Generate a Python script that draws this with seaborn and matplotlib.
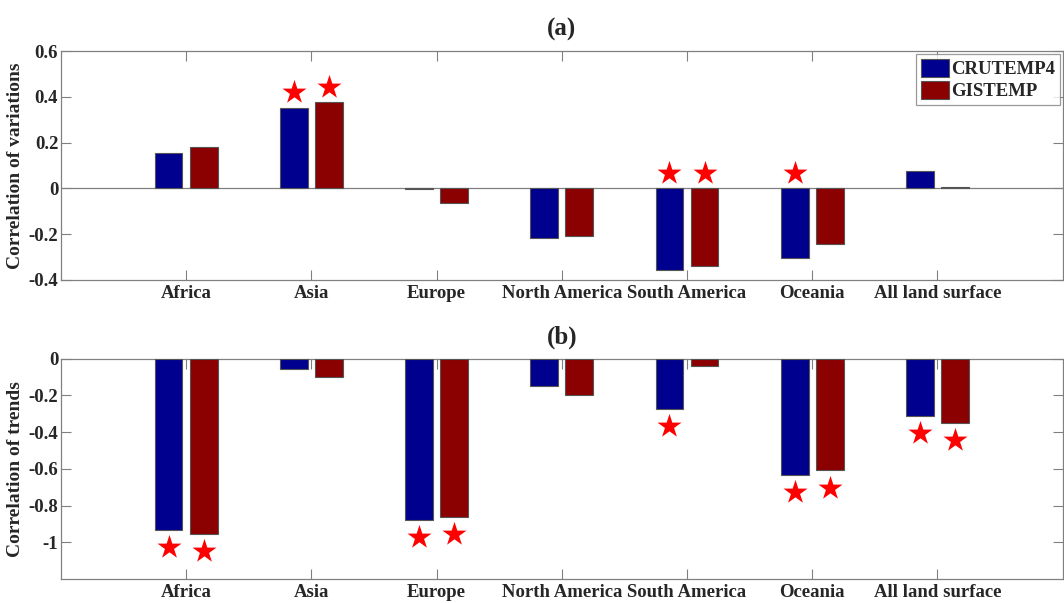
import numpy as np
import pandas as pd
import matplotlib
matplotlib.use("Agg")
import matplotlib.pyplot as plt
import seaborn as sns

regions = ["Africa", "Asia", "Europe", "North America", "South America",
           "Oceania", "All land surface"]
datasets = ["CRUTEMP4", "GISTEMP"]

# (a) correlation of variations
var_cru = [0.155, 0.353, -0.004, -0.215, -0.355, -0.305, 0.074]
var_gis = [0.183, 0.377, -0.062, -0.209, -0.340, -0.245, 0.008]
var_sig_cru = [0, 1, 0, 0, 1, 1, 0]
var_sig_gis = [0, 1, 0, 0, 1, 0, 0]

# (b) correlation of trends
trd_cru = [-0.931, -0.053, -0.877, -0.147, -0.274, -0.631, -0.312]
trd_gis = [-0.953, -0.101, -0.862, -0.196, -0.042, -0.607, -0.348]
trd_sig_cru = [1, 0, 1, 0, 1, 1, 1]
trd_sig_gis = [1, 0, 1, 0, 0, 1, 1]

colors = ["#00008f", "#8b0000"]

sns.set_style("ticks")
plt.rcParams["font.family"] = ["Liberation Serif", "DejaVu Serif"]
plt.rcParams["font.weight"] = "bold"
plt.rcParams["axes.unicode_minus"] = False


def make_df(cru, gis):
    return pd.DataFrame({
        "region": regions * 2,
        "dataset": [datasets[0]] * len(regions) + [datasets[1]] * len(regions),
        "value": list(cru) + list(gis),
    })


def style_axis(ax, ylim, yticks, ylabel):
    ax.set_xlim(-1, 7)
    ax.set_ylim(*ylim)
    ax.set_yticks(yticks)
    ax.set_yticklabels([f"{t:g}" for t in yticks])
    ax.set_xlabel("")
    ax.set_ylabel(ylabel, fontsize=14, fontweight="bold", labelpad=3)
    ax.tick_params(direction="in", length=7, width=0.8, color="#808080",
                   top=True, right=True, labelsize=13.5)
    ax.tick_params(axis="x", pad=4)
    ax.tick_params(axis="y", pad=2)
    for lab in ax.get_xticklabels() + ax.get_yticklabels():
        lab.set_fontweight("bold")
    for s in ax.spines.values():
        s.set_visible(True)
        s.set_color("#808080")
        s.set_linewidth(0.9)


def add_stars(ax, cru, gis, sig_cru, sig_gis, off, positive):
    for vals, sig, dx in [(cru, sig_cru, -0.14), (gis, sig_gis, 0.14)]:
        xs, ys = [], []
        for i, (v, s) in enumerate(zip(vals, sig)):
            if not s:
                continue
            xs.append(i + dx)
            ys.append(max(v, 0) + off if positive else v - off)
        ax.scatter(xs, ys, marker="*", s=330, color="red", linewidths=0,
                   zorder=5, clip_on=False)


fig = plt.figure(figsize=(10.64, 6.03), dpi=100)
ax1 = fig.add_axes([0.0573, 0.536, 0.9414, 0.379])
ax2 = fig.add_axes([0.0573, 0.040, 0.9414, 0.365])

sns.barplot(data=make_df(var_cru, var_gis), x="region", y="value", hue="dataset",
            palette=colors, saturation=1, width=0.56, gap=0.21,
            edgecolor="#555555", linewidth=0.8, ax=ax1, zorder=3)
ax1.axhline(0, color="#808080", lw=0.9, zorder=2)
style_axis(ax1, (-0.4, 0.6), [-0.4, -0.2, 0, 0.2, 0.4, 0.6],
           "Correlation of variations")
add_stars(ax1, var_cru, var_gis, var_sig_cru, var_sig_gis, 0.068, True)
ax1.set_title("(a)", fontsize=18, fontweight="bold", pad=11)
leg = ax1.legend(loc="upper right", frameon=True, fancybox=False,
                 prop={"family": "Liberation Serif", "weight": "bold", "size": 13.5},
                 handlelength=1.5, handleheight=1.1, handletextpad=0.1,
                 borderpad=0.25, labelspacing=0.15, borderaxespad=0.15)
leg.get_frame().set_edgecolor("#808080")
leg.get_frame().set_linewidth(0.9)

sns.barplot(data=make_df(trd_cru, trd_gis), x="region", y="value", hue="dataset",
            palette=colors, saturation=1, width=0.56, gap=0.21,
            edgecolor="#555555", linewidth=0.8, ax=ax2, zorder=3, legend=False)
style_axis(ax2, (-1.2, 0), [-1, -0.8, -0.6, -0.4, -0.2, 0],
           "Correlation of trends")
add_stars(ax2, trd_cru, trd_gis, trd_sig_cru, trd_sig_gis, 0.095, False)
ax2.set_title("(b)", fontsize=18, fontweight="bold", pad=11)

fig.savefig("out.png", dpi=100)
